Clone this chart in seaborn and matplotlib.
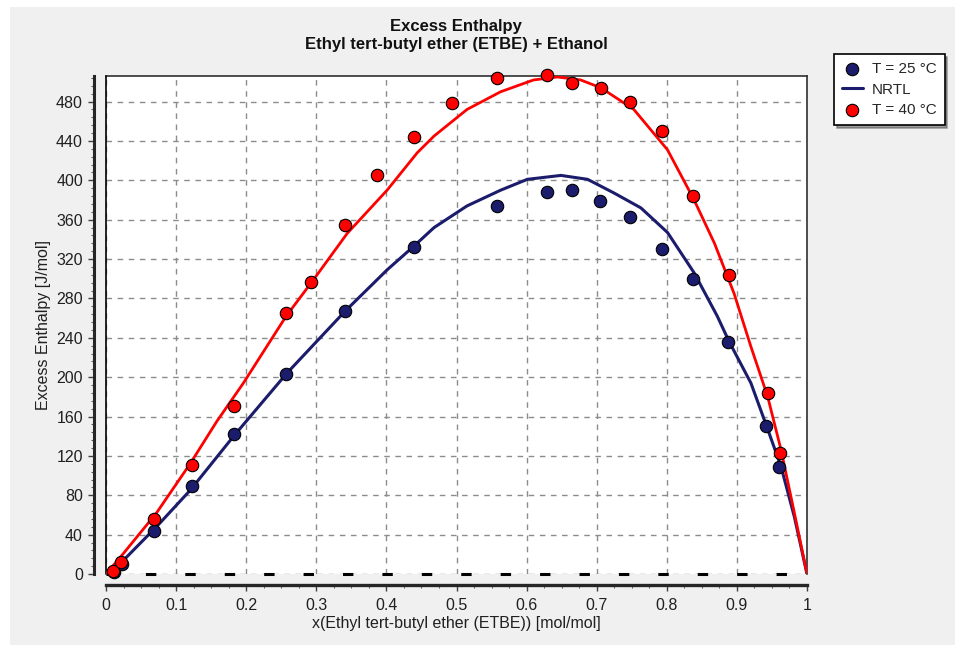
import numpy as np
import pandas as pd
import matplotlib
matplotlib.use("Agg")
import matplotlib.pyplot as plt
from matplotlib.patches import Rectangle
from matplotlib.ticker import MultipleLocator, FuncFormatter
import seaborn as sns

x_25 = [0.011, 0.023, 0.069, 0.122, 0.183, 0.257, 0.341, 0.439, 0.558, 0.629,
        0.665, 0.704, 0.747, 0.793, 0.838, 0.888, 0.942, 0.960]
h_25 = [2.5, 10, 44, 89, 142, 203, 267, 332, 374, 388,
        390, 379, 363, 330, 300, 236, 150, 109]

x_40 = [0.0105, 0.022, 0.069, 0.122, 0.183, 0.257, 0.293, 0.341, 0.386, 0.439,
        0.494, 0.558, 0.629, 0.665, 0.706, 0.747, 0.793, 0.838, 0.889, 0.944, 0.961]
h_40 = [3.5, 12, 56, 111, 171, 265, 297, 355, 405, 444,
        479, 504, 507, 499, 494, 480, 450, 384, 304, 184, 123]

# NRTL model curves
xn_25 = [0, 0.025, 0.072, 0.12, 0.182, 0.258, 0.341, 0.401, 0.439, 0.468, 0.515,
         0.563, 0.601, 0.649, 0.687, 0.725, 0.763, 0.801, 0.839, 0.872, 0.889,
         0.92, 0.944, 0.963, 0.982, 1.0]
hn_25 = [0, 14, 48, 85, 140, 204, 267, 309, 333, 352, 374,
         390, 401, 405, 401, 387, 372, 347, 306, 262, 236,
         194, 147, 109, 58, 0]

xn_40 = [0, 0.025, 0.072, 0.12, 0.158, 0.196, 0.257, 0.296, 0.344, 0.401, 0.444,
         0.468, 0.515, 0.563, 0.61, 0.644, 0.677, 0.706, 0.753, 0.801, 0.839,
         0.868, 0.896, 0.92, 0.944, 0.963, 0.982, 1.0]
hn_40 = [0, 21, 62, 112, 155, 194, 262, 299, 346, 390, 428,
         445, 472, 490, 502, 505, 502, 494, 472, 431, 380,
         336, 285, 231, 180, 126, 62, 0]

navy = "#1c1c6c"
red = "#ff0000"
panel = "#f0f0f0"

sns.set_style("ticks")
plt.rcParams["font.family"] = ["Liberation Sans", "DejaVu Sans"]

fig = plt.figure(figsize=(9.61, 6.49), dpi=100, facecolor="white")
fig.patches.append(Rectangle((10 / 961, 4 / 649), 945 / 961, 638 / 649,
                             transform=fig.transFigure, facecolor=panel,
                             edgecolor="none", zorder=-10))
ax = fig.add_axes([106 / 961, 1 - 574 / 649, 701 / 961, 498 / 649])
ax.set_facecolor("white")

pts25 = pd.DataFrame({"x": x_25, "h": h_25})
pts40 = pd.DataFrame({"x": x_40, "h": h_40})
nrtl25 = pd.DataFrame({"x": xn_25, "h": hn_25})
nrtl40 = pd.DataFrame({"x": xn_40, "h": hn_40})

sns.scatterplot(data=pts25, x="x", y="h", ax=ax, color=navy, s=80,
                edgecolor="black", linewidth=0.8, zorder=5, label="T = 25 °C",
                clip_on=False)
sns.lineplot(data=nrtl25, x="x", y="h", ax=ax, color=navy, linewidth=2.2,
             zorder=4, label="NRTL")
sns.scatterplot(data=pts40, x="x", y="h", ax=ax, color=red, s=80,
                edgecolor="black", linewidth=0.8, zorder=5, label="T = 40 °C",
                clip_on=False)
sns.lineplot(data=nrtl40, x="x", y="h", ax=ax, color=red, linewidth=2.0,
             zorder=4, label="_nolegend_")

ax.set_xlim(0, 1)
ax.set_ylim(0, 506)

ax.xaxis.set_major_locator(MultipleLocator(0.1))
ax.xaxis.set_minor_locator(MultipleLocator(0.025))
ax.yaxis.set_major_locator(MultipleLocator(40))
ax.yaxis.set_minor_locator(MultipleLocator(8))
ax.xaxis.set_major_formatter(FuncFormatter(lambda v, p: f"{v:g}"))

ax.grid(True, which="major", color="#8c8c8c", linestyle=(0, (4, 4)), linewidth=1)
# zero line and left frame line, drawn unclipped so they are fully visible
ax.axhline(0, color="black", linewidth=2.2, dashes=(3.4, 9.5), zorder=3.5,
           clip_on=False)
ax.axvline(0, color="black", linewidth=1.2, zorder=3, clip_on=False)

for side in ["top", "right"]:
    ax.spines[side].set_linewidth(1.2)
    ax.spines[side].set_color("#303030")
ax.spines["left"].set_position(("outward", 8.6))
ax.spines["bottom"].set_position(("outward", 7.6))
ax.spines["left"].set_linewidth(2.2)
ax.spines["bottom"].set_linewidth(2.4)

ax.tick_params(axis="both", which="major", length=4, width=1, color="#404040",
               labelsize=11.5, labelcolor="#202020")
ax.tick_params(axis="both", which="minor", length=2.5, width=0.8, color="#606060")
ax.tick_params(axis="x", which="major", pad=6)
ax.tick_params(axis="y", which="major", pad=4)

ax.set_xlabel("x(Ethyl tert-butyl ether (ETBE)) [mol/mol]", fontsize=11.5,
              color="#202020", labelpad=2)
ax.set_ylabel("Excess Enthalpy [J/mol]", fontsize=11.5, color="#202020",
              labelpad=4)

fig.text(456 / 961, 1 - 27 / 649, "Excess Enthalpy", ha="center", va="center",
         fontsize=12, fontweight="bold", color="#111111")
fig.text(456 / 961, 1 - 45 / 649, "Ethyl tert-butyl ether (ETBE) + Ethanol",
         ha="center", va="center", fontsize=12, fontweight="bold", color="#111111")

handles, labels = ax.get_legend_handles_labels()
leg = ax.legend(handles, labels, loc="upper left",
                bbox_to_anchor=(834 / 961, 1 - 54 / 649),
                bbox_transform=fig.transFigure, borderaxespad=0,
                fontsize=11, frameon=True, fancybox=False, shadow=True,
                edgecolor="black", framealpha=1, handlelength=1.4,
                handletextpad=0.6, labelspacing=0.45, borderpad=0.5)
leg.get_frame().set_linewidth(1.2)

fig.savefig("out.png", dpi=100, facecolor=fig.get_facecolor())
